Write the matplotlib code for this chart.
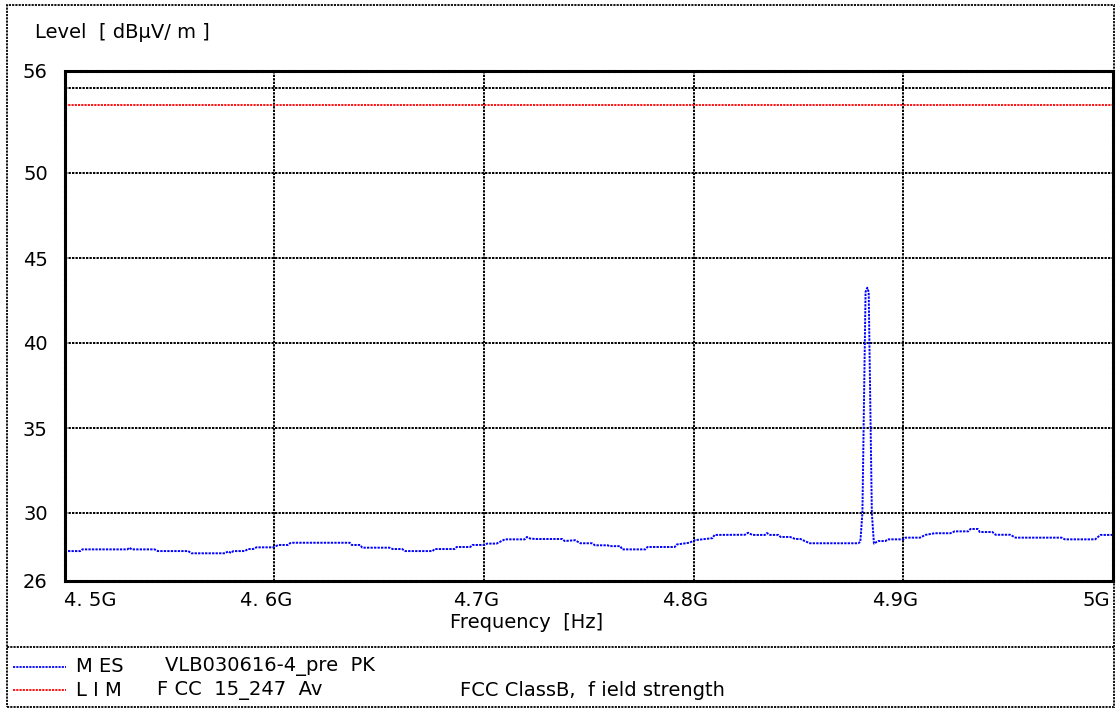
import matplotlib
matplotlib.use('Agg')
import matplotlib.pyplot as plt
from matplotlib.lines import Line2D
from matplotlib.patches import Rectangle
import matplotlib.transforms as mtransforms

plt.rcParams['font.family'] = ['DejaVu Sans']

# --- data (frequency in MHz, level in dBuV/m) ---
freq_mhz = [4500, 4507.5, 4508.5, 4530, 4531, 4532, 4543, 4544.5, 4559, 4560.5,
            4576.5, 4578, 4579.5, 4580.5, 4586, 4587.5, 4590, 4591.5, 4599.5, 4602,
            4606.5, 4607.5, 4609, 4636, 4637, 4641, 4642, 4655, 4656.5, 4661,
            4662.5, 4675.5, 4676.5, 4686, 4687, 4693.5, 4694.5, 4700.5, 4701.5, 4706,
            4710, 4719.5, 4720.5, 4722, 4724.5, 4737.5, 4738.5, 4743.5, 4746, 4751.5,
            4753, 4759, 4760, 4765, 4766, 4777, 4778, 4791, 4792, 4798,
            4800.5, 4809, 4810, 4824.5, 4826, 4828, 4834, 4835, 4836.5, 4840.5,
            4841.5, 4846, 4848.5, 4851, 4853, 4855.5, 4878.5, 4879.5, 4880.5, 4882,
            4882.8, 4883.5, 4885, 4886, 4888, 4891.5, 4892.5, 4900, 4901, 4908,
            4910.5, 4915, 4922.5, 4924.5, 4931, 4932, 4935.5, 4936.5, 4942.5, 4944,
            4951, 4953.5, 4975.5, 4977, 4991.5, 4994, 5000]
level_mes = [27.76, 27.76, 27.86, 27.86, 27.96, 27.86, 27.86, 27.76, 27.76, 27.63,
             27.63, 27.74, 27.65, 27.76, 27.76, 27.88, 27.88, 27.98, 27.98, 28.12,
             28.12, 28.22, 28.25, 28.25, 28.12, 28.12, 27.96, 27.96, 27.88, 27.88,
             27.76, 27.76, 27.88, 27.88, 28.0, 28.0, 28.12, 28.12, 28.2, 28.2,
             28.45, 28.45, 28.59, 28.5, 28.47, 28.47, 28.35, 28.4, 28.22, 28.22,
             28.1, 28.1, 28.05, 28.05, 27.86, 27.86, 28.0, 28.0, 28.15, 28.25,
             28.4, 28.52, 28.71, 28.72, 28.84, 28.71, 28.71, 28.82, 28.71, 28.71,
             28.59, 28.59, 28.47, 28.47, 28.35, 28.22, 28.22, 28.3, 30.0, 43.0,
             43.25, 43.0, 30.0, 28.2, 28.35, 28.35, 28.45, 28.45, 28.55, 28.55,
             28.71, 28.81, 28.81, 28.92, 28.92, 29.06, 29.06, 28.88, 28.88, 28.72,
             28.72, 28.55, 28.55, 28.45, 28.45, 28.71, 28.71]
limit_freq = [4500, 5000]
limit_level = [54.0, 54.0]

x_ticks = [4500, 4600, 4700, 4800, 4900, 5000]
x_labels = ['4. 5G', '4. 6G', '4.7G', '4.8G', '4.9G', '5G']
y_ticks = [26, 30, 35, 40, 45, 50, 55, 56]
y_labels = ['26', '30', '35', '40', '45', '50', '', '56']

FS = 14
W, H = 1116, 708
fig = plt.figure(figsize=(W / 100, H / 100), dpi=100)
ax = fig.add_axes([64.5 / W, 1 - 581 / H, (1113 - 64.5) / W, (581 - 71) / H])

dot = (0, (1.2, 0.6))
ax.plot(limit_freq, limit_level, color='red', lw=1.3, linestyle=dot)
ax.plot(freq_mhz, level_mes, color='blue', lw=1.4, linestyle=dot)

ax.set_xlim(4500, 5000)
ax.set_ylim(26, 56)
ax.set_xticks(x_ticks)
ax.set_xticklabels(x_labels, fontsize=FS)
ax.set_yticks(y_ticks)
ax.set_yticklabels(y_labels, fontsize=FS)
ax.tick_params(length=0)
ax.tick_params(axis='y', pad=12)
ax.tick_params(axis='x', pad=7)
ax.grid(True, color='black', lw=1.4, linestyle=dot)
for sp in ax.spines.values():
    sp.set_linestyle(dot)
    sp.set_linewidth(2.2)

# x tick labels sit a little left of their ticks
shift = mtransforms.ScaledTranslation(-8 / 100, 0, fig.dpi_scale_trans)
labels = ax.get_xticklabels()
for lab in labels:
    lab.set_transform(lab.get_transform() + shift)
labels[0].set_horizontalalignment('left')
labels[0].set_transform(labels[0].get_transform()
                        + mtransforms.ScaledTranslation(8 / 100, 0, fig.dpi_scale_trans))
labels[-1].set_horizontalalignment('right')
labels[-1].set_transform(labels[-1].get_transform()
                         + mtransforms.ScaledTranslation(5 / 100, 0, fig.dpi_scale_trans))

fig.text(35 / W, 1 - 32 / H, 'Level  [ dBµV/ m ]', fontsize=FS, va='center', ha='left')
fig.text(527 / W, 1 - 622 / H, 'Frequency  [Hz]', fontsize=FS, va='center', ha='center')

# outer frame and legend separator
fig.add_artist(Rectangle((7 / W, 1 / H), (1114 - 7) / W, (703 - 1) / H,
                         transform=fig.transFigure, fill=False,
                         edgecolor='black', lw=1.3, linestyle=dot))
fig.add_artist(Line2D([7 / W, 1114 / W], [1 - 647 / H, 1 - 647 / H],
                      transform=fig.transFigure, color='black', lw=1.3, linestyle=dot))

# legend rows
fig.add_artist(Line2D([13 / W, 66 / W], [1 - 667 / H, 1 - 667 / H],
                      transform=fig.transFigure, color='blue', lw=1.3, linestyle=dot))
fig.add_artist(Line2D([13 / W, 66 / W], [1 - 690 / H, 1 - 690 / H],
                      transform=fig.transFigure, color='red', lw=1.3, linestyle=dot))
fig.text(76 / W, 1 - 667 / H, 'M ES', fontsize=FS, va='center')
fig.text(165 / W, 1 - 667 / H, 'VLB030616-4_pre  PK', fontsize=FS, va='center')
fig.text(76 / W, 1 - 690 / H, 'L I M', fontsize=FS, va='center')
fig.text(157 / W, 1 - 690 / H, 'F CC  15_247  Av', fontsize=FS, va='center')
fig.text(460 / W, 1 - 690 / H, 'FCC ClassB,  f ield strength', fontsize=FS, va='center')

fig.savefig('out.png', dpi=100)
